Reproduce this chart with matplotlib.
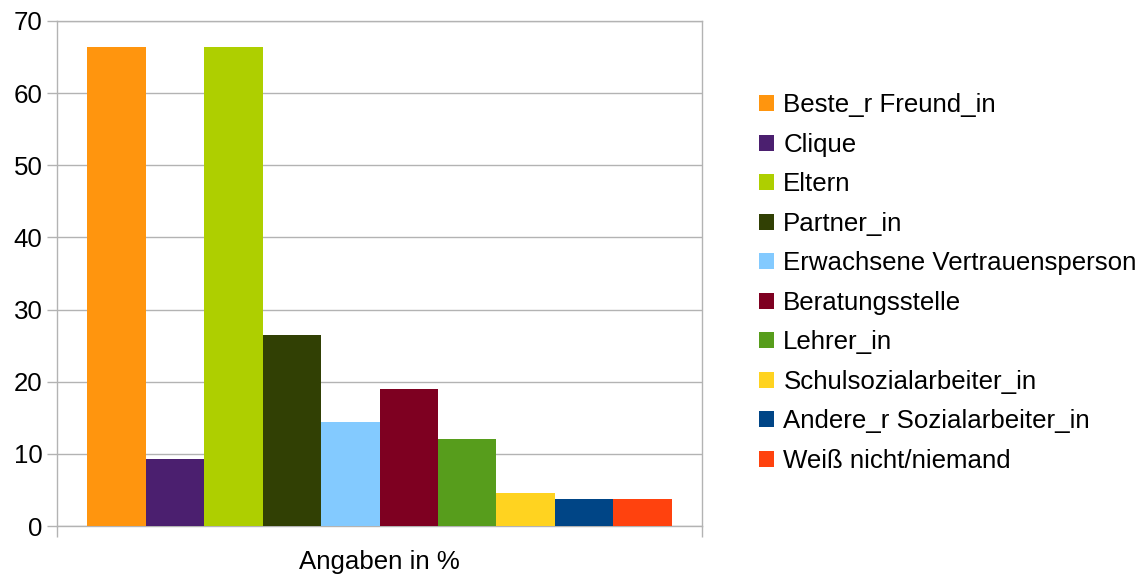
import matplotlib.pyplot as plt
from matplotlib.patches import Patch

plt.rcParams['font.family'] = ['Liberation Sans', 'DejaVu Sans']

categories = ['Beste_r Freund_in', 'Clique', 'Eltern', 'Partner_in',
              'Erwachsene Vertrauensperson', 'Beratungsstelle', 'Lehrer_in',
              'Schulsozialarbeiter_in', 'Andere_r Sozialarbeiter_in',
              'Weiß nicht/niemand']
values = [66.4, 9.3, 66.4, 26.5, 14.4, 19.0, 12.1, 4.6, 3.8, 3.8]
colors = ['#ff950e', '#4b1f6f', '#aecf00', '#314004', '#83caff',
          '#7e0021', '#579d1c', '#ffd320', '#004586', '#ff420e']
group_label = 'Angaben in %'

grid_col = '#b3b3b3'
fs = 18.6

fig = plt.figure(figsize=(11.47, 5.76), dpi=100)
W, H = 1147, 576
ax = fig.add_axes([57 / W, (576 - 526) / H, (702 - 57) / W, (526 - 21) / H])

for i, (v, c) in enumerate(zip(values, colors)):
    ax.bar(i, v, width=1.0, color=c, zorder=3)

margin = 0.513
ax.set_xlim(-0.5 - margin, 9.5 + margin)
ax.set_ylim(0, 70)
ax.set_yticks(range(0, 71, 10))
ax.yaxis.grid(True, color=grid_col, linewidth=1.0, zorder=0)

ax.set_xticks([4.5])
ax.set_xticklabels([group_label], fontsize=fs)
ax.tick_params(axis='x', which='major', length=0, pad=17)
ax.set_xticks([-0.5 - margin, 9.5 + margin], minor=True)
ax.tick_params(axis='x', which='minor', length=8, color=grid_col, width=1.0)
ax.tick_params(axis='y', length=7.5, color=grid_col, width=1.0, labelsize=fs, pad=3)

for s in ax.spines.values():
    s.set_color(grid_col)
    s.set_linewidth(1.0)

handles = [Patch(facecolor=c, edgecolor='none') for c in colors]
fig.legend(handles, categories, loc='upper left',
           bbox_to_anchor=(749 / W, 1 - 83 / H), frameon=False,
           fontsize=fs, handlelength=0.58, handleheight=0.58,
           handletextpad=0.35, labelspacing=0.6, borderaxespad=0)

fig.savefig('out.png', dpi=100)
